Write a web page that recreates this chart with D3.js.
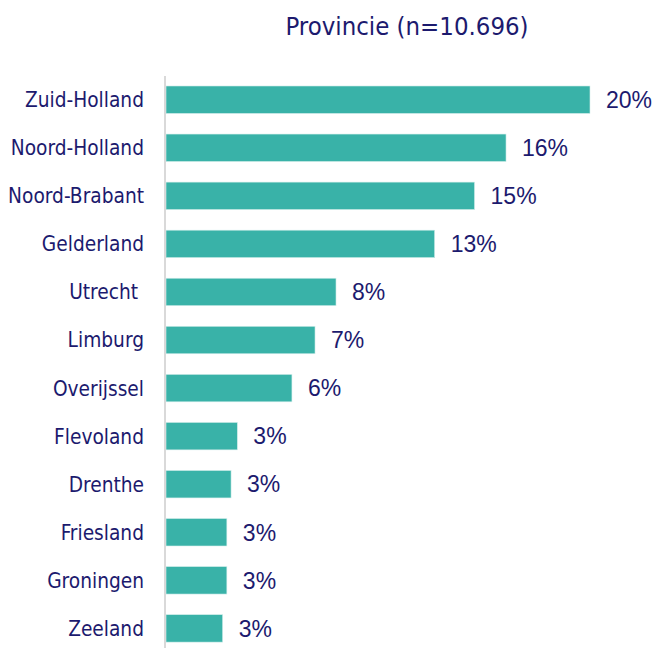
<!doctype html>
<html>
  <head>
    <meta charset="utf-8">
    <script src="https://cdn.jsdelivr.net/npm/d3@7"></script>
    <style>
      body { margin: 0; background: #ffffff; }
      .cat { font-family: "DejaVu Sans", sans-serif; font-stretch: condensed; font-size: 20.7px; fill: #1c1a6e; white-space: pre; }
      .val { font-family: "Liberation Sans", Arial, sans-serif; font-size: 23px; fill: #1c1a6e; }
      .title { font-family: "DejaVu Sans", sans-serif; font-stretch: condensed; font-size: 25.5px; fill: #1c1a6e; }
    </style>
  </head>
  <body>
    <svg id="chart"></svg>
    <script>
      // data (percent of n=10.696)
      var provinces = ["Zuid-Holland", "Noord-Holland", "Noord-Brabant", "Gelderland", "Utrecht ",
                       "Limburg", "Overijssel", "Flevoland", "Drenthe", "Friesland", "Groningen", "Zeeland"];
      var shares = [20.2, 16.2, 14.7, 12.8, 8.1, 7.1, 6.0, 3.4, 3.1, 2.9, 2.9, 2.7];
      var titleText = "Provincie (n=10.696)";

      var width = 656, height = 648;
      var svg = d3.select("#chart").attr("width", width).attr("height", height);

      var x = d3.scaleLinear().domain([0, 25]).range([166, 166 + 25 * 20.99]);
      var y = d3.scaleBand().domain(provinces)
          .range([75.7, 652.4])
          .paddingInner(0.428)
          .paddingOuter(0.214);

      // titel
      svg.append("text").attr("class", "title")
        .attr("x", 407).attr("y", 35)
        .attr("text-anchor", "middle")
        .text(titleText);

      // balken
      svg.selectAll("rect.bar").data(shares).enter()
        .append("rect").attr("class", "bar")
          .attr("x", x(0))
          .attr("y", (d, i) => y(provinces[i]))
          .attr("width", d => x(d) - x(0))
          .attr("height", y.bandwidth())
          .attr("fill", "#39b2a8")
          .attr("stroke", "#d6efec")
          .attr("stroke-width", 0.6);

      // verticale as
      svg.append("line")
        .attr("x1", 165).attr("x2", 165)
        .attr("y1", 76).attr("y2", height)
        .attr("stroke", "#d9d9d9").attr("stroke-width", 2);

      // categorie labels
      svg.selectAll("text.cat").data(provinces).enter()
        .append("text").attr("class", "cat")
          .attr("x", 144)
          .attr("y", d => y(d) + y.bandwidth() / 2)
          .attr("dy", "0.36em")
          .attr("text-anchor", "end")
          .text(d => d);

      // waarde labels
      svg.selectAll("text.val").data(shares).enter()
        .append("text").attr("class", "val")
          .attr("x", d => x(d) + 16)
          .attr("y", (d, i) => y(provinces[i]) + y.bandwidth() / 2)
          .attr("dy", "0.36em")
          .text(d => Math.round(d) + "%");
    </script>
  </body>
</html>
